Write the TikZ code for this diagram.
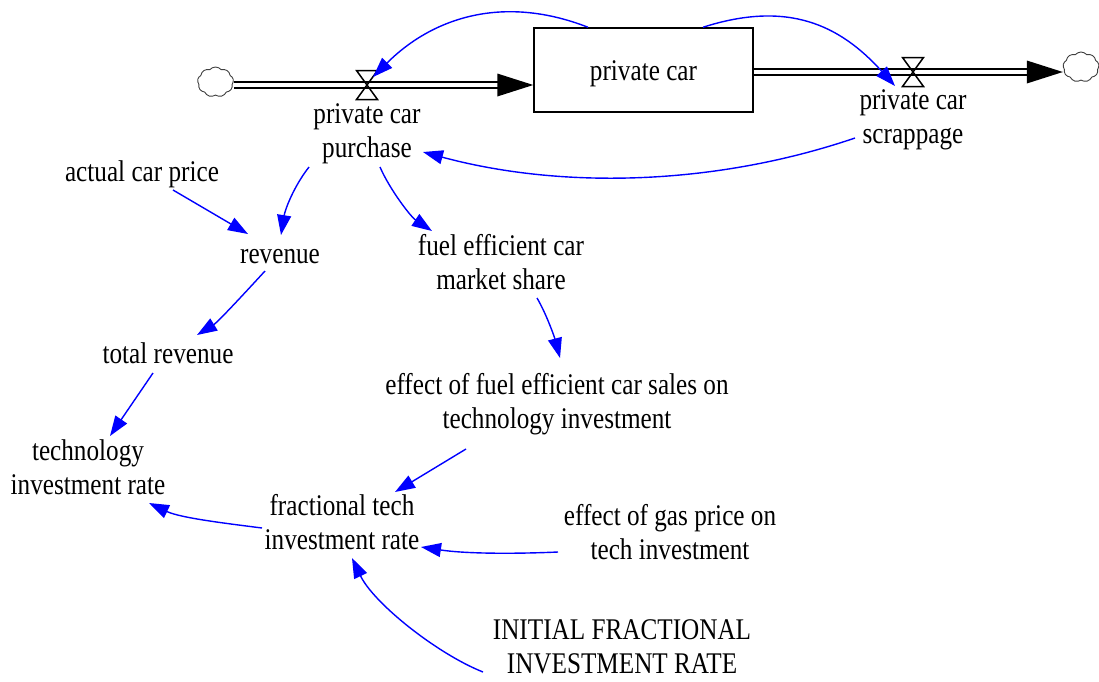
\documentclass[tikz,border=0pt]{standalone}
\usepackage{fontspec}
\setmainfont{Liberation Serif}[FakeStretch=0.84]
\usetikzlibrary{arrows.meta,shapes.symbols,calc}
\definecolor{linkblue}{RGB}{0,0,255}
\newcommand\lblstrut{\rule[-6.8pt]{0pt}{34pt}}
\tikzset{
  lbl/.style={align=center, inner sep=0pt, font=\fontsize{30}{34}\selectfont,
    execute at begin node=\lblstrut, execute at end node=\lblstrut},
  conn/.style={draw=linkblue, line width=1.4pt, -{Triangle[length=20pt,width=14pt]}},
  pipe/.style={draw, line width=2pt, double, double distance=4.6pt},
  valveline/.style={draw, line width=1.5pt, line join=miter},
  stockbox/.style={draw, line width=1.5pt, minimum width=219pt, minimum height=84pt,
    inner sep=0pt, text height=20pt, text depth=0pt, font=\fontsize{30}{34}\selectfont},
  cloudsh/.style={cloud, cloud puffs=9, cloud puff arc=100, aspect=1.2, draw=black!75,
    line width=0.9pt, minimum width=36pt, minimum height=30pt, inner sep=0pt},
}
\begin{document}
\begin{tikzpicture}[x=1pt,y=-1pt]
\useasboundingbox (0,0) rectangle (1099,681);

% stock, clouds, valves
\node[stockbox] (stock) at (643.5,70) {private car};
\node[cloudsh] (cloudL) at (215.5,82) {};
\node[cloudsh] (cloudR) at (1081,67) {};
\coordinate (vin) at (367,85);
\coordinate (vout) at (913,72);

% labels
\node[lbl] (purchase) at (367,134) {private car\\purchase};
\node[lbl] (scrap) at (913,119.5) {private car\\scrappage};
\node[lbl] (price) at (142,171) {actual car price};
\node[lbl] (revenue) at (280,253) {revenue};
\node[lbl] (fuel) at (501,265) {fuel efficient car\\market share};
\node[lbl] (total) at (168,353) {total revenue};
\node[lbl] (efc) at (557,404) {effect of fuel efficient car sales on\\technology investment};
\node[lbl] (tech) at (88,470) {technology\\investment rate};
\node[lbl] (frac) at (342,525) {fractional tech\\investment rate};
\node[lbl] (gas) at (670,535) {effect of gas price on\\tech investment};
\node[lbl] (init) at (622,650) {INITIAL FRACTIONAL\\INVESTMENT RATE};

% pipes
\draw[pipe] (cloudL.east |- vin) -- ($(stock.west |- vin)+(-30,0)$);
\fill ($(stock.west |- vin)+(-36,-11.5)$) -- (stock.west |- vin) -- ($(stock.west |- vin)+(-36,11.5)$) -- cycle;
\draw[pipe] (stock.east |- vout) -- ($(cloudR.west |- vout)+(-30,0)$);
\fill ($(cloudR.west |- vout)+(-36,-11.5)$) -- (cloudR.west |- vout) -- ($(cloudR.west |- vout)+(-36,11.5)$) -- cycle;

% valves
\draw[valveline] ($(vin)+(-10.5,-14.5)$) -- ($(vin)+(10.5,-14.5)$) -- ($(vin)+(-10.5,14.5)$) -- ($(vin)+(10.5,14.5)$) -- cycle;
\draw[valveline] ($(vout)+(-10.5,-14.5)$) -- ($(vout)+(10.5,-14.5)$) -- ($(vout)+(-10.5,14.5)$) -- ($(vout)+(10.5,14.5)$) -- cycle;

% connectors
\draw[conn] ($(stock.north)+(-55.5,0)$) .. controls (500,-7) and (430,20) .. ($(vin)+(6,-8)$);
\draw[conn] ($(stock.north)+(59.5,0)$) .. controls (788,0) and (840,25) .. ($(vout)+(-18,14)$);
\draw[conn] ($(scrap.center)+(-58,18.5)$) .. controls (717,185) and (564,190) .. ($(purchase.center)+(56,18)$);
\draw[conn] ($(purchase.center)+(-58,33)$) .. controls (293.5,186.8) and (285,210) .. ($(revenue.center)+(1,-18)$);
\draw[conn] ($(purchase.center)+(13,33)$) .. controls (390,190) and (411,217) .. ($(fuel.center)+(-69,-34)$);
\draw[conn] ($(price.center)+(31,19)$) -- ($(revenue.center)+(-32,-19)$);
\draw[conn] ($(revenue.center)+(-15,18)$) .. controls (248,289.5) and (218,322) .. ($(total.center)+(29,-18)$);
\draw[conn] ($(fuel.center)+(36,33)$) .. controls (547,315) and (555,339) .. ($(efc.center)+(3,-46)$);
\draw[conn] ($(total.center)+(-15,20)$) -- ($(tech.center)+(22,-34)$);
\draw[conn] ($(efc.center)+(-91,45)$) -- ($(frac.center)+(53,-33)$);
\draw[conn] ($(frac.center)+(-80,3)$) .. controls (227,523.5) and (180.5,518) .. ($(tech.center)+(61,33)$);
\draw[conn] ($(gas.center)+(-112,17)$) .. controls (513,554) and (465.5,553.75) .. ($(frac.center)+(79,22)$);
\draw[conn] ($(init.center)+(-139,22)$) .. controls (436.5,653.5) and (373.5,603) .. ($(frac.center)+(10,33)$);
\end{tikzpicture}
\end{document}
